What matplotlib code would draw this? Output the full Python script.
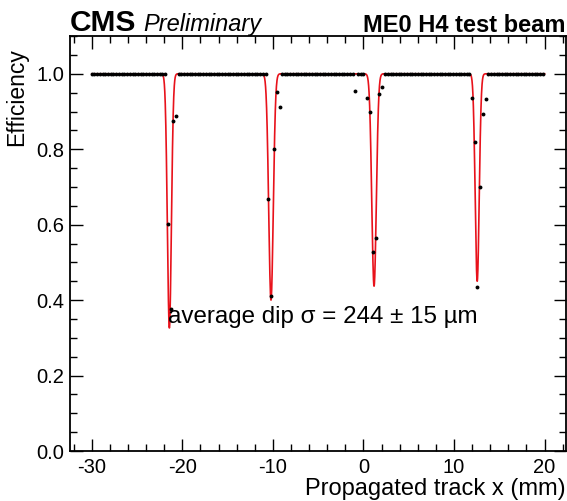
import numpy as np
import matplotlib
matplotlib.use("Agg")
import matplotlib.pyplot as plt
from matplotlib.ticker import MultipleLocator, FormatStrFormatter

plt.rcParams['font.family'] = ['Liberation Sans', 'DejaVu Sans']
plt.rcParams['axes.unicode_minus'] = False

# efficiency scan, bin width ~0.3 mm, flat at 1.0 outside the dips
x_min, x_max, bin_w = -30.0, 20.0, 0.3
dip_x = [-21.6, -21.3, -21.0, -20.7,
         -10.5, -10.2, -9.9, -9.55, -9.25,
         -0.9, 0.42, 0.75, 1.05, 1.35, 1.71, 2.04,
         11.98, 12.27, 12.53, 12.83, 13.22, 13.49]
dip_eff = [0.603, 0.377, 0.874, 0.889,
           0.668, 0.41, 0.80, 0.953, 0.913,
           0.954, 0.935, 0.90, 0.527, 0.564, 0.947, 0.966,
           0.936, 0.818, 0.435, 0.70, 0.894, 0.932]

# fit: four gaussian dips
fit_mean = [-21.43, -10.21, 1.17, 12.56]
fit_depth = [0.674, 0.60, 0.563, 0.55]
fit_sigma = [0.22, 0.25, 0.25, 0.22]

grid = np.round(np.arange(x_min, x_max + 1e-6, bin_w), 3)
dx = np.array(dip_x)
keep = np.array([np.min(np.abs(g - dx)) > 0.16 for g in grid])
x_pts = np.concatenate([grid[keep], dx])
y_pts = np.concatenate([np.ones(keep.sum()), np.array(dip_eff)])

xf = np.linspace(x_min, x_max, 4000)
yf = np.ones_like(xf)
for m, d, s in zip(fit_mean, fit_depth, fit_sigma):
    yf -= d * np.exp(-0.5 * ((xf - m) / s) ** 2)

fig = plt.figure(figsize=(5.67, 5.01), dpi=100)
ax = fig.add_axes([0.1235, 0.0998, 0.8745, 0.8282])

ax.plot(xf, yf, color='#e8121b', lw=1.2, zorder=2)
ax.plot(x_pts, y_pts, 'o', color='black', ms=2.8, mew=0, zorder=3)

ax.set_xlim(-32.4, 22.35)
ax.set_ylim(0, 1.1)
ax.xaxis.set_major_locator(MultipleLocator(10))
ax.xaxis.set_minor_locator(MultipleLocator(2))
ax.yaxis.set_major_locator(MultipleLocator(0.2))
ax.yaxis.set_minor_locator(MultipleLocator(0.05))
ax.yaxis.set_major_formatter(FormatStrFormatter('%.1f'))
ax.tick_params(which='both', direction='in', top=True, right=True, labelsize=14.5, width=1.0)
ax.tick_params(which='major', length=9)
ax.tick_params(which='minor', length=5)
ax.tick_params(axis='x', pad=5)
ax.tick_params(axis='y', pad=4)
for sp in ax.spines.values():
    sp.set_linewidth(1.3)

ax.set_xlabel('Propagated track x (mm)', fontsize=17, loc='right', labelpad=1)
ax.set_ylabel('Efficiency', fontsize=16.5, loc='top')
ax.yaxis.set_label_coords(-0.085, 0.97)

ax.text(-21.58, 0.34, 'average dip σ = 244 ± 15 µm', fontsize=17.4, va='baseline', ha='left')

fig.text(0.1235, 0.938, 'CMS', fontsize=21.5, fontweight='bold', va='baseline', ha='left')
fig.text(0.252, 0.938, 'Preliminary', fontsize=17, fontstyle='italic', va='baseline', ha='left')
fig.text(0.997, 0.936, 'ME0 H4 test beam', fontsize=17, fontweight='bold', va='baseline', ha='right')

fig.savefig('out.png', dpi=100)
